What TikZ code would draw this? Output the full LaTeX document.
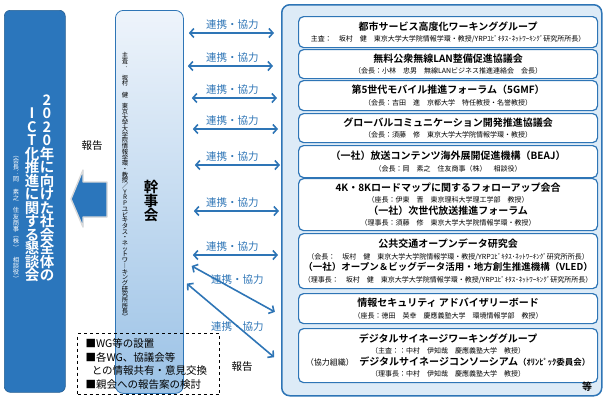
\documentclass[tikz,border=0pt]{standalone}
\usepackage{fontspec}
\setmainfont{Noto Sans CJK JP}[BoldFont={Noto Sans CJK JP Bold}]
\usetikzlibrary{arrows.meta}

\definecolor{kblue}{RGB}{46,117,182}
\definecolor{kdeep}{RGB}{43,118,188}
\definecolor{kpale}{RGB}{221,235,247}
\definecolor{kusui}{RGB}{238,244,251}
\definecolor{kkoi}{RGB}{155,194,230}

\newcommand\meisho{\fontsize{10}{11.5}\selectfont\bfseries}
\newcommand\yakusho{\fontsize{7}{11.5}\selectfont\mdseries}

% 縦書き:1文字ずつ積む(#1は字送り)
\makeatletter
\newcommand\tatekaki[2]{\vbox{\offinterlineskip
  \@tfor\tate@moji:=#2\do{\vbox to #1{\vss
    \hbox to 1em{\hss\vrule height .88em depth .12em width 0pt\relax\tate@moji\hss}\vss}}}}
\makeatother

\begin{document}
\begin{tikzpicture}[x=1pt,y=-1pt,inner sep=0pt,
    wg/.style={draw=kblue,fill=white,line width=1.2pt,rounded corners=5pt,%
      anchor=north west,minimum width=299pt,align=center,%
      font=\fontsize{7}{11.5}\selectfont},
    renkei/.style={kblue,line width=1.6pt,%
      {Straight Barb[length=4pt,width=9pt]}-{Straight Barb[length=4pt,width=9pt]}},
    rlabel/.style={font=\fontsize{10.5}{12}\selectfont}]

  % 画像サイズに合わせる
  \useasboundingbox (0,0) rectangle (604,400);

  % 親会
  \node[fill=kdeep,draw=kblue!80!black,line width=0.6pt,rounded corners=6pt,%
    anchor=north west,minimum width=61pt,minimum height=382pt] (shinkai) at (4,10) {};
  \node[anchor=south,text=white,font=\bfseries\fontsize{14.5}{15}\selectfont] (oya1) at (47,282)
    {\tatekaki{13.5pt}{2020年に向けた社会全体の}};
  \node[anchor=south,text=white,font=\bfseries\fontsize{14.5}{15}\selectfont] (oya2) at (32,282)
    {\tatekaki{13.5pt}{ICT化推進に関する懇談会}};
  \node[anchor=south,text=white,font=\fontsize{6.3}{7}\selectfont] (oya3) at (16,282)
    {\tatekaki{6.2pt}{︵会長︓岡　素之　住友商事︵株︶　相談役︶}};

  % 報告の矢印
  \filldraw[fill=kdeep,draw=black!15,line width=1.4pt,line join=round]
    (71,199) -- (83,170) -- (83,182) -- (107,182) -- (107,217) -- (83,217) -- (83,227) -- cycle;
  \node[rlabel] (hokoku1) at (92,146) {報告};

  % 幹事会
  \node[draw=kblue,line width=0.8pt,top color=kusui,bottom color=kkoi,rounded corners=8pt,%
    anchor=north west,minimum width=68pt,minimum height=383pt] (kanji) at (115,10) {};
  \node[anchor=north,font=\fontsize{6.3}{7}\selectfont] (shusa) at (125,52)
    {\tatekaki{5.7pt}{主査︓　坂村　健　東京大学大学院情報学環・教授／YRPユビキタス・ネットワ︱キング研究所所長︶}};
  \node[font=\bfseries\fontsize{14.5}{15}\selectfont] (kanjikai) at (151,201)
    {\tatekaki{14.3pt}{幹事会}};

  % 幹事会の役割
  \node[draw,dashed,line width=1pt,anchor=north west,text width=126pt,%
    inner xsep=8pt,minimum height=61pt,align=left,%
    font=\fontsize{10.5}{13.7}\selectfont] (yakuwari) at (77,333)
    {■WG等の設置\\■各WG、協議会等\\\hspace{0.6em}との情報共有・意見交換\\■親会への報告案の検討};

  % 各会議体
  \node[draw=kblue,fill=kpale,line width=1.5pt,rounded corners=8pt,%
    anchor=north west,minimum width=320pt,minimum height=391pt] (kaigi) at (281,4) {};

  \node[wg,minimum height=31pt] (toshi) at (298,16)
    {{\meisho 都市サービス高度化ワーキンググループ}\\
     {\yakusho 主査：　坂村　健　東京大学大学院情報学環・教授/YRPﾕﾋﾞｷﾀｽ･ﾈｯﾄﾜｰｷﾝｸﾞ研究所所長）}};
  \node[wg,minimum height=29pt] (lan) at (298,49)
    {{\meisho 無料公衆無線LAN整備促進協議会}\\
     {\yakusho （会長：小林　忠男　無線LANビジネス推進連絡会　会長）}};
  \node[wg,minimum height=30pt] (gmf) at (298,80)
    {{\meisho 第5世代モバイル推進フォーラム（5GMF）}\\
     {\yakusho （会長：吉田　進　京都大学　特任教授・名誉教授）}};
  \node[wg,minimum height=29pt] (gcf) at (298,113)
    {{\meisho グローバルコミュニケーション開発推進協議会}\\
     {\yakusho （会長：須藤　修　東京大学大学院情報学環・教授）}};
  \node[wg,minimum height=32pt] (beaj) at (298,145)
    {{\meisho （一社）放送コンテンツ海外展開促進機構（BEAJ）}\\
     {\yakusho （会長：岡　素之　住友商事（株）　相談役）}};
  \node[wg,minimum height=52pt] (yonk) at (298,178)
    {{\meisho 4K・8Kロードマップに関するフォローアップ会合}\\
     {\yakusho （座長：伊東　晋　東京理科大学理工学部　教授）}\\
     {\meisho （一社）次世代放送推進フォーラム}\\
     {\yakusho （理事長：須藤　修　東京大学大学院情報学環・教授）}};
  \node[wg,minimum height=55pt] (koukyo) at (298,233)
    {{\meisho 公共交通オープンデータ研究会}\\
     {\yakusho （会長：　坂村　健　東京大学大学院情報学環・教授/YRPﾕﾋﾞｷﾀｽ･ﾈｯﾄﾜｰｷﾝｸﾞ研究所所長）}\\
     {\meisho\fontsize{9.5}{11.5}\selectfont （一社）オープン＆ビッグデータ活用・地方創生推進機構（VLED）}\\
     {\yakusho （理事長：　坂村　健　東京大学大学院情報学環・教授/YRPﾕﾋﾞｷﾀｽ･ﾈｯﾄﾜｰｷﾝｸﾞ研究所所長）}};
  \node[wg,minimum height=30pt] (sec) at (298,293)
    {{\meisho 情報セキュリティ アドバイザリーボード}\\
     {\yakusho （座長：徳田　英幸　慶應義塾大学　環境情報学部　教授）}};
  \node[wg,minimum height=54pt] (sign) at (298,328)
    {{\meisho デジタルサイネージワーキンググループ}\\
     {\yakusho （主査：：中村　伊知哉　慶應義塾大学　教授）}\\
     {\fontsize{8}{11.5}\selectfont （協力組織）}\hspace{0.8em}{\meisho デジタルサイネージコンソーシアム{\fontsize{8.5}{11.5}\selectfont （ｵﾘﾝﾋﾟｯｸ委員会）}}\\
     {\yakusho （理事長：中村　伊知哉　慶應義塾大学　教授）}};
  \node[font=\bfseries\fontsize{10}{10}\selectfont] (nado) at (587,387) {等};

  % 連携・協力の矢印
  \foreach \y/\s in {33/0,66/-1,98/3,129/4,165/6,211/5,255/4}
    \draw[renkei,shorten <=5pt+\s pt,shorten >=7pt-\s pt]
      (kanji.east |- 0,\y) -- (kaigi.west |- 0,\y)
      node[midway,above=3pt,rlabel] {連携・協力};
  \draw[renkei,shorten <=9pt,shorten >=7pt]
    (kanji.east |- 0,261.6) -- (kaigi.west |- 0,315.3)
    node[pos=0.5,xshift=5pt,yshift=9pt,rlabel] {連携・協力};
  \draw[renkei,shorten <=4pt,shorten >=9pt]
    (kanji.east |- 0,281) -- (kaigi.west |- 0,363)
    node[pos=0.55,rlabel] {連携・協力};
  \node[rlabel] (hokoku2) at (242,367) {報告};
\end{tikzpicture}
\end{document}
